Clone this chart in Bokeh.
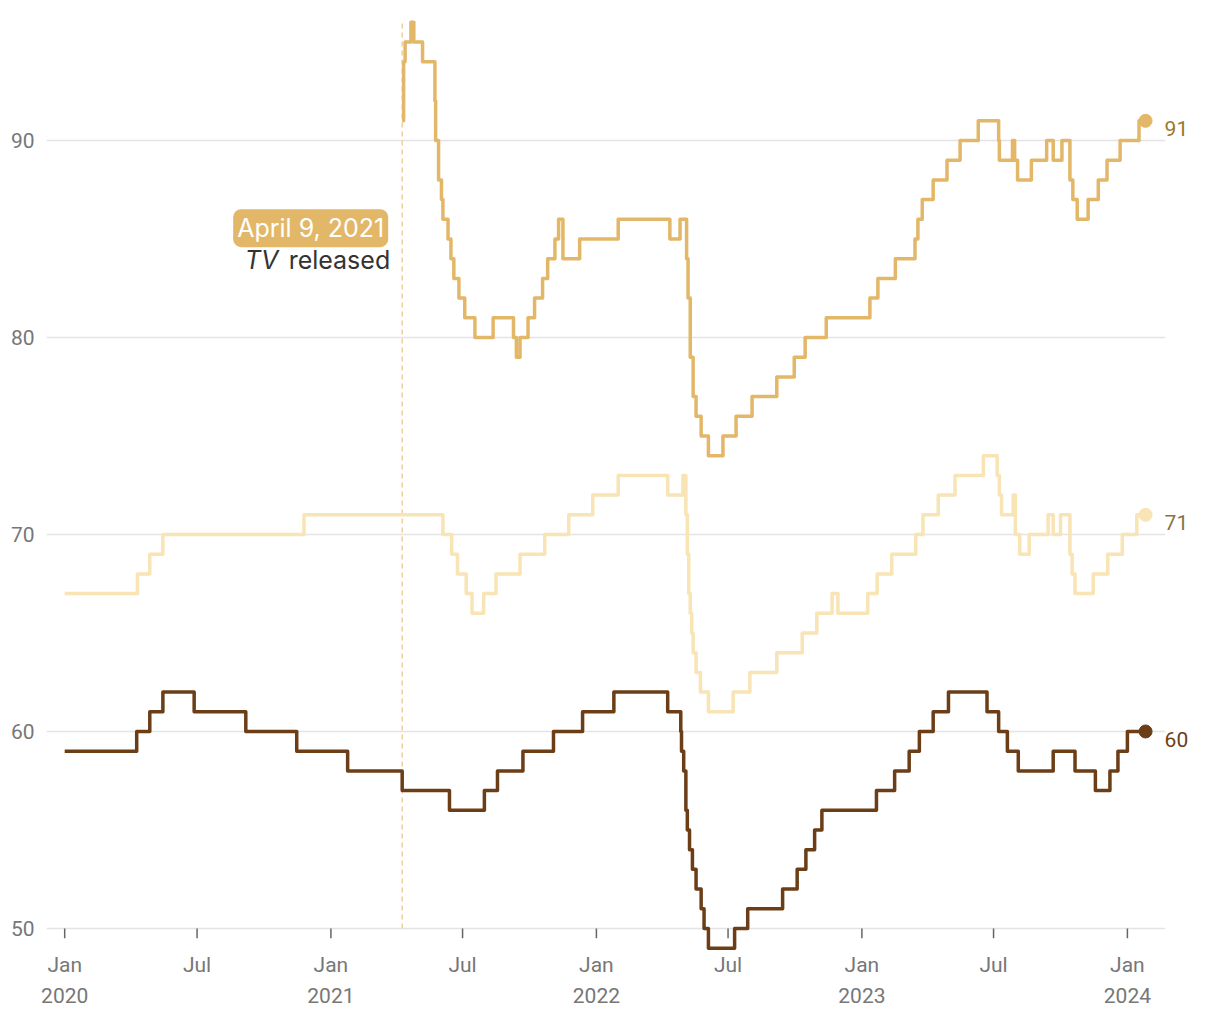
import pandas as pd
from bokeh.plotting import figure
from bokeh.models import Range1d, LinearAxis, FixedTicker, Label
from bokeh.embed import file_html
from bokeh.resources import INLINE

# ---------------- data ----------------
gold_dates = ["2021-04-09", "2021-04-11", "2021-04-13", "2021-04-21", "2021-04-25", "2021-05-07",
              "2021-05-24", "2021-05-25", "2021-05-29", "2021-06-02", "2021-06-04", "2021-06-11",
              "2021-06-15", "2021-06-19", "2021-06-26", "2021-07-04", "2021-07-18", "2021-08-12",
              "2021-09-09", "2021-09-13", "2021-09-18", "2021-09-29", "2021-10-08", "2021-10-19",
              "2021-10-26", "2021-11-05", "2021-11-10", "2021-11-16", "2021-12-09", "2022-01-31",
              "2022-04-12", "2022-04-26", "2022-05-05", "2022-05-07", "2022-05-10", "2022-05-14",
              "2022-05-18", "2022-05-25", "2022-06-04", "2022-06-24", "2022-07-12", "2022-08-03",
              "2022-09-06", "2022-09-30", "2022-10-15", "2022-11-13", "2023-01-12", "2023-01-23",
              "2023-02-16", "2023-03-15", "2023-03-19", "2023-03-25", "2023-04-09", "2023-04-28",
              "2023-05-16", "2023-06-10", "2023-07-08", "2023-07-09", "2023-07-27", "2023-07-30",
              "2023-08-03", "2023-08-22", "2023-09-12", "2023-09-21", "2023-10-03", "2023-10-14",
              "2023-10-18", "2023-10-24", "2023-11-08", "2023-11-22", "2023-12-04", "2023-12-22",
              "2024-01-17", "2024-01-26"]
gold_values = [91, 94, 95, 96, 95, 94,
               92, 90, 88, 87, 86, 85,
               84, 83, 82, 81, 80, 81,
               80, 79, 80, 81, 82, 83,
               84, 85, 86, 84, 85, 86,
               85, 86, 84, 82, 79, 77,
               76, 75, 74, 75, 76, 77,
               78, 79, 80, 81, 82, 83,
               84, 85, 86, 87, 88, 89,
               90, 91, 90, 89, 90, 89,
               88, 89, 90, 89, 90, 88,
               87, 86, 87, 88, 89, 90,
               91, 91]

pale_dates = ["2020-01-01", "2020-04-10", "2020-04-27", "2020-05-15", "2020-11-25", "2021-06-04",
              "2021-06-16", "2021-06-24", "2021-07-06", "2021-07-14", "2021-07-30", "2021-08-16",
              "2021-09-18", "2021-10-22", "2021-11-24", "2021-12-27", "2022-01-31", "2022-04-09",
              "2022-04-30", "2022-05-04", "2022-05-06", "2022-05-08", "2022-05-10", "2022-05-12",
              "2022-05-14", "2022-05-18", "2022-05-24", "2022-06-04", "2022-07-08", "2022-07-31",
              "2022-09-06", "2022-10-11", "2022-10-31", "2022-11-21", "2022-11-29", "2023-01-09",
              "2023-01-22", "2023-02-11", "2023-03-16", "2023-03-26", "2023-04-16", "2023-05-09",
              "2023-06-17", "2023-07-06", "2023-07-09", "2023-07-12", "2023-07-28", "2023-07-31",
              "2023-08-06", "2023-08-19", "2023-09-14", "2023-09-21", "2023-10-01", "2023-10-14",
              "2023-10-17", "2023-10-21", "2023-11-15", "2023-12-05", "2023-12-25", "2024-01-14",
              "2024-01-26"]
pale_values = [67, 68, 69, 70, 71, 70,
               69, 68, 67, 66, 67, 68,
               69, 70, 71, 72, 73, 72,
               73, 71, 69, 67, 66, 65,
               64, 63, 62, 61, 62, 63,
               64, 65, 66, 67, 66, 67,
               68, 69, 70, 71, 72, 73,
               74, 73, 72, 71, 72, 70,
               69, 70, 71, 70, 71, 69,
               68, 67, 68, 69, 70, 71,
               71]

dark_dates = ["2020-01-01", "2020-04-09", "2020-04-27", "2020-05-15", "2020-06-27", "2020-09-06",
              "2020-11-15", "2021-01-24", "2021-04-09", "2021-06-13", "2021-07-31", "2021-08-18",
              "2021-09-22", "2021-11-03", "2021-12-13", "2022-01-25", "2022-04-09", "2022-04-27",
              "2022-04-28", "2022-05-01", "2022-05-04", "2022-05-06", "2022-05-09", "2022-05-13",
              "2022-05-18", "2022-05-25", "2022-05-29", "2022-06-04", "2022-07-10", "2022-07-28",
              "2022-09-14", "2022-10-04", "2022-10-16", "2022-10-28", "2022-11-07", "2023-01-21",
              "2023-02-15", "2023-03-07", "2023-03-21", "2023-04-09", "2023-04-30", "2023-06-22",
              "2023-07-08", "2023-07-20", "2023-08-04", "2023-09-21", "2023-10-21", "2023-11-18",
              "2023-12-08", "2023-12-19", "2024-01-01", "2024-01-26"]
dark_values = [59, 60, 61, 62, 61, 60,
               59, 58, 57, 56, 57, 58,
               59, 60, 61, 62, 61, 60,
               59, 58, 56, 55, 54, 53,
               52, 51, 50, 49, 50, 51,
               52, 53, 54, 55, 56, 57,
               58, 59, 60, 61, 62, 61,
               60, 59, 58, 59, 58, 57,
               58, 59, 60, 60]

event_date = "2021-04-09"
event_label = "April 9, 2021"

y_ticks = [50, 60, 70, 80, 90]
month_ticks = ["2020-01-01", "2020-07-01", "2021-01-01", "2021-07-01", "2022-01-01",
               "2022-07-01", "2023-01-01", "2023-07-01", "2024-01-01"]
month_labels = ["Jan", "Jul", "Jan", "Jul", "Jan", "Jul", "Jan", "Jul", "Jan"]
year_ticks = ["2020-01-01", "2021-01-01", "2022-01-01", "2023-01-01", "2024-01-01"]
year_labels = ["2020", "2021", "2022", "2023", "2024"]

GOLD = "#e3b768"
PALE = "#f8e4b4"
DARK = "#6b3e17"

X_START = "2019-12-07"   # left edge of the plotting area
GRID_END = "2024-02-22"  # where gridlines stop
X_END = "2024-05-08"     # right edge of the canvas (room for end labels)


def ms(d):
    return pd.Timestamp(d).value / 1e6


FONT = "Roboto"

p = figure(width=1220, height=1020, output_backend="svg", toolbar_location=None,
           x_axis_type=None,
           x_range=Range1d(ms(X_START), ms(X_END)),
           y_range=Range1d(48.78, 96.6),
           min_border_left=46, min_border_right=0, min_border_top=10, min_border_bottom=68)
p.outline_line_color = None
p.background_fill_color = "white"

# y axis
p.yaxis.ticker = FixedTicker(ticks=y_ticks)
p.yaxis.axis_line_color = None
p.yaxis.major_tick_line_color = None
p.yaxis.minor_tick_line_color = None
p.yaxis.major_label_standoff = 6
p.yaxis.major_label_text_font = FONT
p.yaxis.major_label_text_font_size = "21px"
p.yaxis.major_label_text_color = "#777777"
p.ygrid.visible = False

# gridlines stopping before the end labels
p.segment(x0=[pd.Timestamp(X_START)] * len(y_ticks), y0=y_ticks,
          x1=[pd.Timestamp(GRID_END)] * len(y_ticks), y1=y_ticks,
          line_color="#e4e4e4", line_width=1.5)

# x axes (months, then years)
mt = [ms(d) for d in month_ticks]
yt = [ms(d) for d in year_ticks]
ax_m = LinearAxis(ticker=FixedTicker(ticks=mt),
                  major_label_overrides={t: l for t, l in zip(mt, month_labels)})
ax_y = LinearAxis(ticker=FixedTicker(ticks=yt),
                  major_label_overrides={t: l for t, l in zip(yt, year_labels)})
for ax, so in ((ax_m, -6), (ax_y, 2)):
    ax.axis_line_color = None
    ax.major_tick_line_color = None
    ax.minor_tick_line_color = None
    ax.major_label_standoff = so
    ax.major_label_text_font = FONT
    ax.major_label_text_font_size = "21px"
    ax.major_label_text_color = "#777777"
    p.add_layout(ax, "below")

# tick marks hanging from the baseline
p.segment(x0=[pd.Timestamp(d) for d in month_ticks], y0=min(y_ticks),
          x1=[pd.Timestamp(d) for d in month_ticks], y1=min(y_ticks) - 0.5,
          line_color="#666666", line_width=1.5)

# event line
ev = pd.Timestamp(event_date)
p.segment(x0=[ev], y0=[min(y_ticks)], x1=[ev], y1=[max(gold_values)],
          line_color="#f2cf98", line_width=1.5, line_dash="5 4")

# series
series = [
    (pale_dates, pale_values, PALE, "#857449"),
    (dark_dates, dark_values, DARK, DARK),
    (gold_dates, gold_values, GOLD, "#9a772d"),
]
for dates, vals, col, lab_col in series:
    xs = [pd.Timestamp(d) for d in dates]
    p.step(xs, vals, mode="after", line_color=col, line_width=3.5, line_join="round")
    p.scatter([xs[-1]], [vals[-1]], size=13, fill_color=col, line_color=col)
    p.add_layout(Label(x=ms(dates[-1]), y=vals[-1], text=str(vals[-1]), x_offset=19, y_offset=-8,
                       text_font=FONT, text_font_size="21px", text_color=lab_col,
                       text_baseline="middle", text_align="left"))

# annotation
p.add_layout(Label(x=ms(event_date), y=85.55, text=event_label, x_offset=-14,
                   text_font="Inter", text_font_size="25px", text_color="white",
                   text_align="right", text_baseline="middle",
                   background_fill_color=GOLD, border_radius=8, padding=4))
p.add_layout(Label(x=ms(event_date), y=83.95, text="released", x_offset=-12,
                   text_font="Inter", text_font_size="25px", text_color="#333333",
                   text_align="right", text_baseline="middle"))
p.add_layout(Label(x=ms(event_date), y=83.95, text="TV", x_offset=-124,
                   text_font="Inter", text_font_size="25px", text_color="#333333",
                   text_font_style="italic",
                   text_align="right", text_baseline="middle"))

open("out.html", "w").write(file_html(p, INLINE))
